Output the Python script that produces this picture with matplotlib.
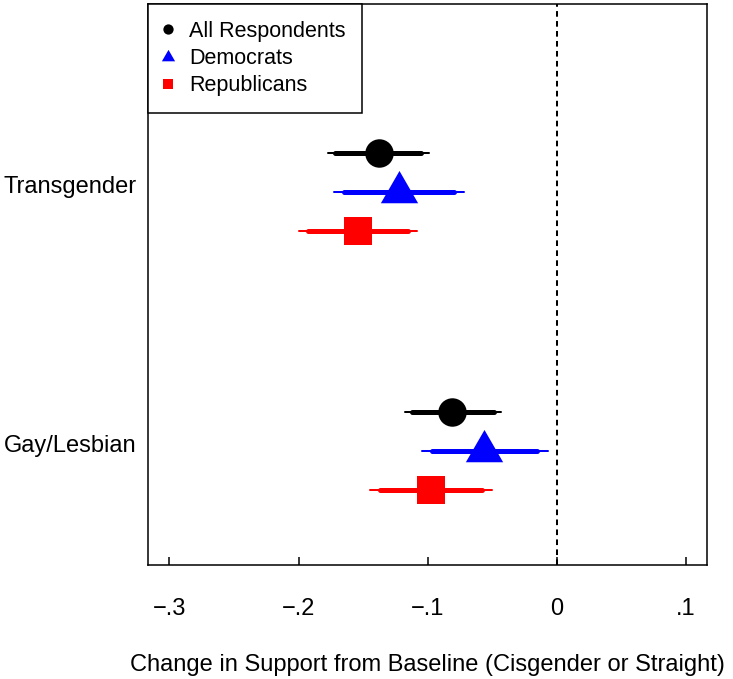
import matplotlib
matplotlib.use('Agg')
import matplotlib.pyplot as plt
from matplotlib.lines import Line2D
from matplotlib.path import Path

plt.rcParams['font.family'] = ['Liberation Sans', 'DejaVu Sans']

# Data
groups = ['Transgender', 'Gay/Lesbian']
group_pos = [2, 1]
series = ['All Respondents', 'Democrats', 'Republicans']
colors = ['black', 'blue', 'red']
offsets = [0.15, 0.0, -0.15]

# point estimates per group (rows) and series (columns)
estimates = [[-0.138, -0.1225, -0.154],
             [-0.081, -0.0563, -0.0978]]
ci95_lo = [[-0.1775, -0.173, -0.200],
           [-0.118, -0.1047, -0.1447]]
ci95_hi = [[-0.099, -0.072, -0.108],
           [-0.043, -0.007, -0.0505]]
ci90_lo = [[-0.1715, -0.1647, -0.193],
           [-0.1124, -0.0969, -0.1372]]
ci90_hi = [[-0.105, -0.0796, -0.1157],
           [-0.0491, -0.0151, -0.0584]]

xticks = [-0.3, -0.2, -0.1, 0, 0.1]
xticklabels = ['\u2212.3', '\u2212.2', '\u2212.1', '0', '.1']

# triangle centred on its centroid, like R's pch 17
tri = Path([(0, 1), (-0.866, -0.5), (0.866, -0.5), (0, 1)],
           [Path.MOVETO, Path.LINETO, Path.LINETO, Path.CLOSEPOLY])
markers = ['o', tri, 's']
marker_sizes = [20.5, 31.0, 20.5]
legend_sizes = [7.4, 11.0, 7.4]

fs = 17

fig = plt.figure(figsize=(7.33, 6.79), dpi=100)
ax = fig.add_axes([0.2019, 0.1679, 0.7626, 0.8262])

ax.axvline(0, color='black', lw=1.45, linestyle=(0, (2.8, 2.15)), zorder=1)

for g, gy in enumerate(group_pos):
    for s in range(len(series)):
        y = gy + offsets[s]
        ax.plot([ci95_lo[g][s], ci95_hi[g][s]], [y, y], color=colors[s],
                lw=1.45, solid_capstyle='round', zorder=2)
        ax.plot([ci90_lo[g][s], ci90_hi[g][s]], [y, y], color=colors[s],
                lw=3.6, solid_capstyle='round', zorder=3)
        ax.plot([estimates[g][s]], [y], marker=markers[s], color=colors[s],
                markersize=marker_sizes[s], markeredgewidth=0, linestyle='none',
                zorder=4)

ax.set_xlim(-0.3166, 0.1161)
ax.set_ylim(0.56, 2.726)

ax.set_xticks(xticks)
ax.set_xticklabels(xticklabels, fontsize=fs)
ax.tick_params(axis='x', direction='in', length=5.8, width=1.1, pad=24)

ax.set_yticks([p + 0.028 for p in group_pos])
ax.set_yticklabels(groups, fontsize=fs)
ax.tick_params(axis='y', length=0, pad=8.5)

for sp in ax.spines.values():
    sp.set_linewidth(1.1)

ax.set_xlabel('Change in Support from Baseline (Cisgender or Straight)',
              fontsize=fs, labelpad=24)

handles = [Line2D([], [], marker=markers[i], color=colors[i], linestyle='none',
                  markersize=legend_sizes[i], markeredgewidth=0)
           for i in range(len(series))]
leg = ax.legend(handles, series, loc='upper left', borderaxespad=0,
                fancybox=False, edgecolor='black', framealpha=1, fontsize=15.5,
                handlelength=0.3, handletextpad=0.82, labelspacing=0.29,
                borderpad=0.78)
leg.get_frame().set_linewidth(1.1)

fig.savefig('out.png', dpi=100)
